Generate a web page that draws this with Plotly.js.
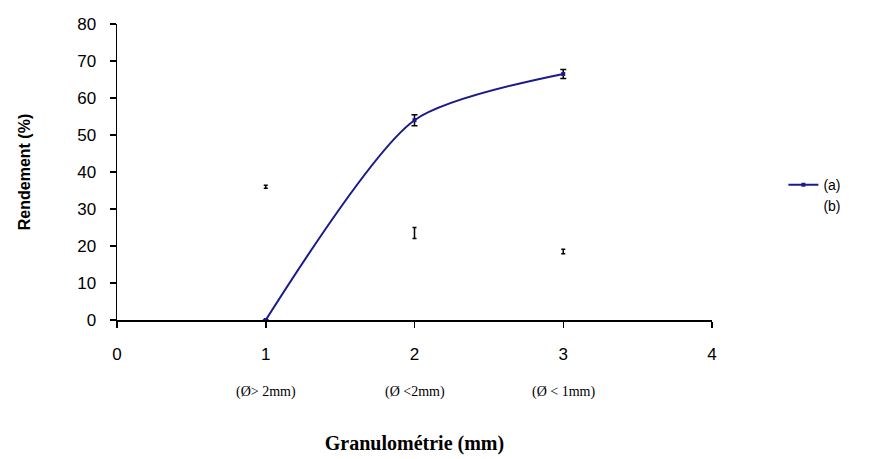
<!DOCTYPE html>
<html>
<head>
<meta charset="utf-8">
<script src="https://cdn.plot.ly/plotly-3.0.1.min.js"></script>
<style>html,body{margin:0;padding:0;background:#fff;}#chart{width:895px;height:459px;}</style>
</head>
<body>
<div id="chart"></div>
<script>
const xValues = [1, 2, 3];
const seriesA = [0, 54, 66.5];
const errorA = [0, 1.5, 1.2];
const seriesB = [36, 23.5, 18.5];
const errorB = [0.4, 1.5, 0.6];
const xTickVals = [0, 1, 2, 3, 4];
const subLabels = ["(Ø> 2mm)", "(Ø <2mm)", "(Ø < 1mm)"];

const traces = [
  {
    x: xValues, y: seriesA, name: "(a)", type: "scatter", mode: "lines+markers",
    line: {color: "#1a1a8c", width: 2, shape: "spline", smoothing: 0.7},
    marker: {color: "#1a1a8c", size: 4, symbol: "square"},
    error_y: {type: "data", array: errorA, visible: true, color: "#000", thickness: 1.5, width: 3}
  },
  {
    x: xValues, y: seriesB, name: "(b)", type: "scatter", mode: "markers",
    marker: {color: "rgba(0,0,0,0)", size: 2},
    error_y: {type: "data", array: errorB, visible: true, color: "#000", thickness: 1.5, width: 2}
  }
];

const annotations = subLabels.map((t, i) => ({
  x: xValues[i], y: 0, xref: "x", yref: "paper", yshift: -82, showarrow: false,
  text: t, font: {family: "Liberation Serif, Times New Roman, serif", size: 14, color: "#000"}
}));

const layout = {
  width: 895, height: 459,
  margin: {l: 117, r: 183, t: 24, b: 139},
  paper_bgcolor: "#fff", plot_bgcolor: "#fff",
  font: {family: "Liberation Sans, Arial, sans-serif", color: "#000"},
  xaxis: {
    range: [0, 4], tickvals: xTickVals, ticks: "outside", ticklen: 6, tickwidth: 1.5, tickcolor: "#000",
    showline: true, linecolor: "#000", linewidth: 1.5, showgrid: false, zeroline: false,
    tickfont: {size: 17}, ticklabelstandoff: 12, fixedrange: true,
    title: {text: "Granulométrie (mm)", standoff: 73,
      font: {family: "Liberation Serif, Times New Roman, serif", size: 20, weight: "bold"}}
  },
  yaxis: {
    range: [0, 80], dtick: 10, ticks: "outside", ticklen: 6, tickwidth: 1.5, tickcolor: "#000",
    showline: true, linecolor: "#000", linewidth: 1.5, showgrid: false, zeroline: false,
    tickfont: {size: 17}, ticklabelstandoff: 10, fixedrange: true,
    title: {text: "Rendement (%)", standoff: 42, font: {size: 16, weight: "bold"}}
  },
  legend: {x: 1.12, y: 0.42, xanchor: "left", yanchor: "middle", font: {size: 14},
    bgcolor: "rgba(0,0,0,0)", itemwidth: 30, tracegroupgap: 0},
  showlegend: true,
  annotations: annotations
};

Plotly.newPlot("chart", traces, layout, {displayModeBar: false, staticPlot: true});
</script>
</body>
</html>
